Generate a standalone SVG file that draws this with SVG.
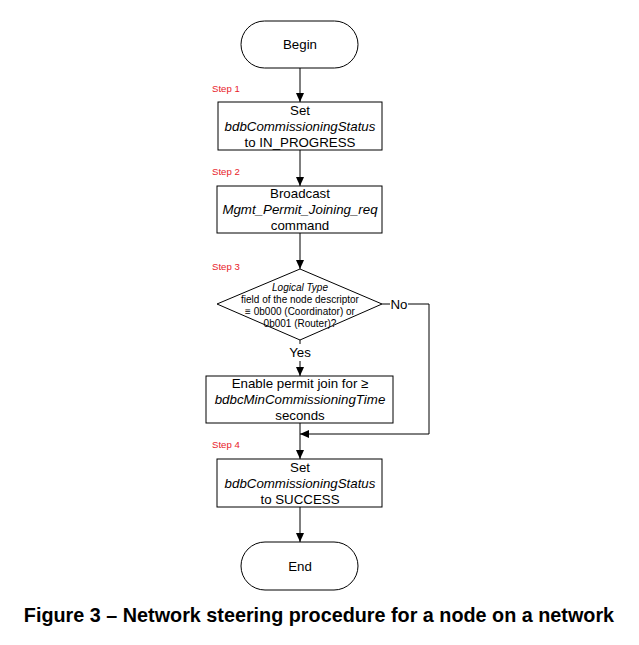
<svg xmlns="http://www.w3.org/2000/svg" width="639" height="645" viewBox="0 0 639 645">
<style>
.shape{fill:#fff;stroke:#000;stroke-width:1}
.t{font-family:"Liberation Sans",Arial,sans-serif;font-size:13.3px;fill:#000;text-anchor:middle}
.i{font-style:italic}
.s{font-family:"Liberation Sans",Arial,sans-serif;font-size:9.6px;fill:#e8202a}
.d{font-family:"Liberation Sans",Arial,sans-serif;font-size:10px;fill:#000;text-anchor:middle}
.line{fill:none;stroke:#000;stroke-width:1}
.cap{font-family:"Liberation Sans",Arial,sans-serif;font-size:19.8px;font-weight:bold;fill:#000;text-anchor:middle}
</style>
<defs>
<marker id="ah" markerWidth="10" markerHeight="10" refX="9" refY="5" orient="auto" markerUnits="userSpaceOnUse">
<path d="M0,1 L9,5 L0,9 Z" fill="#000"/>
</marker>
</defs>
<rect width="639" height="645" fill="#fff"/>
<g id="connectors">
<line class="line" x1="300" y1="68" x2="300" y2="102" marker-end="url(#ah)"/>
<line class="line" x1="300" y1="150" x2="300" y2="186" marker-end="url(#ah)"/>
<line class="line" x1="300" y1="233" x2="300" y2="269" marker-end="url(#ah)"/>
<line class="line" x1="300" y1="340" x2="300" y2="344"/>
<line class="line" x1="300" y1="361" x2="300" y2="376" marker-end="url(#ah)"/>
<line class="line" x1="382" y1="304" x2="390" y2="304"/>
<polyline class="line" points="408,304 429,304 429,434 300,434" marker-end="url(#ah)"/>
<line class="line" x1="300" y1="423" x2="300" y2="459" marker-end="url(#ah)"/>
<line class="line" x1="300" y1="507" x2="300" y2="542" marker-end="url(#ah)"/>
<text class="t" x="300" y="357">Yes</text>
<text class="t" x="399" y="309">No</text>
</g>
<g id="begin">
<rect class="shape" x="241" y="21" width="117" height="47" rx="23.5"/>
<text class="t" x="300" y="49">Begin</text>
</g>
<g id="step1">
<text class="s" x="212" y="92">Step 1</text>
<rect class="shape" x="218" y="102" width="164" height="48"/>
<text class="t" x="300" y="115">Set</text>
<text class="t i" x="300" y="131">bdbCommissioningStatus</text>
<text class="t" x="300" y="147">to IN_PROGRESS</text>
</g>
<g id="step2">
<text class="s" x="212" y="175">Step 2</text>
<rect class="shape" x="217" y="186" width="165" height="47"/>
<text class="t" x="300" y="198">Broadcast</text>
<text class="t i" x="300" y="214">Mgmt_Permit_Joining_req</text>
<text class="t" x="300" y="230">command</text>
</g>
<g id="step3">
<text class="s" x="212" y="270">Step 3</text>
<polygon class="shape" points="300,269 382,304 300,340 217,304"/>
<text class="d i" x="300" y="291">Logical Type</text>
<text class="d" x="300" y="303">field of the node descriptor</text>
<text class="d" x="300" y="315">≡ 0b000 (Coordinator) or</text>
<text class="d" x="300" y="327">0b001 (Router)?</text>
</g>
<g id="permit">
<rect class="shape" x="206" y="376" width="187" height="47"/>
<text class="t" x="300" y="388">Enable permit join for ≥</text>
<text class="t i" x="300" y="404">bdbcMinCommissioningTime</text>
<text class="t" x="300" y="420">seconds</text>
</g>
<g id="step4">
<text class="s" x="212" y="448">Step 4</text>
<rect class="shape" x="217" y="459" width="165" height="48"/>
<text class="t" x="300" y="472">Set</text>
<text class="t i" x="300" y="488">bdbCommissioningStatus</text>
<text class="t" x="300" y="504">to SUCCESS</text>
</g>
<g id="end">
<rect class="shape" x="241" y="542" width="117" height="48" rx="24"/>
<text class="t" x="300" y="571">End</text>
</g>
<text class="cap" x="319" y="622">Figure 3 – Network steering procedure for a node on a network</text>
</svg>
